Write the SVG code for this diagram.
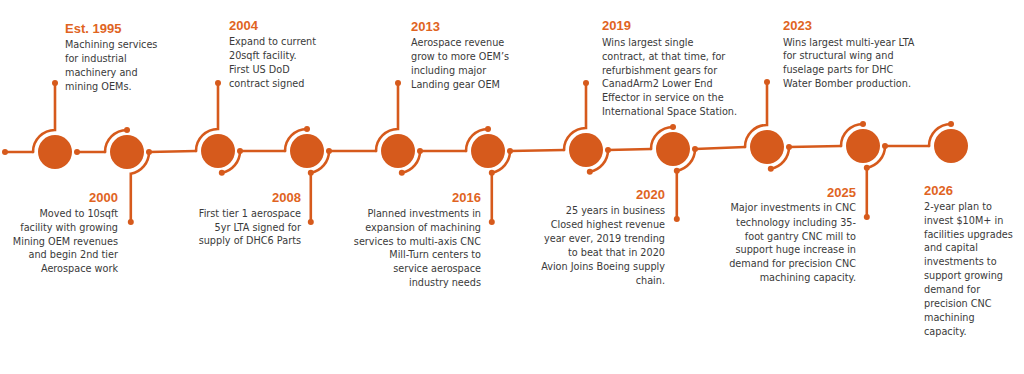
<svg xmlns="http://www.w3.org/2000/svg" width="1024" height="374" viewBox="0 0 1024 374">
<style>
.ln{fill:none;stroke:#D65A1C;stroke-width:2.6;stroke-linecap:round}
.dot{fill:#D65A1C}
.node{fill:#D65A1C}
.yr{font-family:"Liberation Sans",Arial,sans-serif;font-weight:bold;font-size:13px;fill:#E0641F}
.tx{font-family:"DejaVu Sans",Verdana,sans-serif;font-size:9.7px;fill:#3A3A3A}
.r{text-anchor:end}
</style>
<rect width="1024" height="374" fill="#FFFFFF"/>
<g id="connectors">
<path class="ln" d="M5,152 H33"/>
<path class="ln" d="M33,152 A22 22 0 0 1 55,130 V83"/>
<path class="ln" d="M77,152 H105"/>
<path class="ln" d="M105,152 A22 22 0 0 1 127,130"/>
<path class="ln" d="M149,152 A22 22 0 0 1 130.8,173.7 V222"/>
<path class="ln" d="M149,152 L196,151"/>
<path class="ln" d="M196,151 A22 22 0 0 1 218,129 V83"/>
<path class="ln" d="M240,151 A22 22 0 0 1 221.8,172.7"/>
<path class="ln" d="M240,151 L285,151"/>
<path class="ln" d="M285,151 A22 22 0 0 1 307,129"/>
<path class="ln" d="M329,151 A22 22 0 0 1 310.8,172.7 V222"/>
<path class="ln" d="M329,151 L376,151"/>
<path class="ln" d="M376,151 A22 22 0 0 1 398,129 V83"/>
<path class="ln" d="M420,151 A22 22 0 0 1 401.8,172.7"/>
<path class="ln" d="M420,151 L466,151"/>
<path class="ln" d="M466,151 A22 22 0 0 1 488,129"/>
<path class="ln" d="M510,151 A22 22 0 0 1 491.8,172.7 V222"/>
<path class="ln" d="M510,151 L564,150"/>
<path class="ln" d="M564,150 A22 22 0 0 1 586,128 V83"/>
<path class="ln" d="M608,150 A22 22 0 0 1 589.8,171.7"/>
<path class="ln" d="M608,150 L651,149"/>
<path class="ln" d="M651,149 A22 22 0 0 1 673,127"/>
<path class="ln" d="M695,149 A22 22 0 0 1 676.8,170.7 V219"/>
<path class="ln" d="M695,149 L745,147"/>
<path class="ln" d="M745,147 A22 22 0 0 1 767,125 V82"/>
<path class="ln" d="M789,147 A22 22 0 0 1 770.8,168.7"/>
<path class="ln" d="M789,147 L841,146"/>
<path class="ln" d="M841,146 A22 22 0 0 1 863,124"/>
<path class="ln" d="M885,146 A22 22 0 0 1 866.8,167.7 V217"/>
<path class="ln" d="M885,146 L929,146"/>
<path class="ln" d="M929,146 A22 22 0 0 1 951,124"/>
<g class="dot">
<circle cx="5" cy="152" r="3"/>
<circle cx="55" cy="83" r="3"/>
<circle cx="77" cy="152" r="3"/>
<circle cx="127" cy="130" r="3"/>
<circle cx="149" cy="152" r="3"/>
<circle cx="130.8" cy="222" r="3"/>
<circle cx="218" cy="83" r="3"/>
<circle cx="240" cy="151" r="3"/>
<circle cx="221.8" cy="172.7" r="3"/>
<circle cx="307" cy="129" r="3"/>
<circle cx="329" cy="151" r="3"/>
<circle cx="310.8" cy="172.7" r="3"/>
<circle cx="310.8" cy="222" r="3"/>
<circle cx="398" cy="83" r="3"/>
<circle cx="420" cy="151" r="3"/>
<circle cx="401.8" cy="172.7" r="3"/>
<circle cx="488" cy="129" r="3"/>
<circle cx="510" cy="151" r="3"/>
<circle cx="491.8" cy="172.7" r="3"/>
<circle cx="491.8" cy="222" r="3"/>
<circle cx="586" cy="83" r="3"/>
<circle cx="608" cy="150" r="3"/>
<circle cx="589.8" cy="171.7" r="3"/>
<circle cx="673" cy="127" r="3"/>
<circle cx="695" cy="149" r="3"/>
<circle cx="676.8" cy="170.7" r="3"/>
<circle cx="676.8" cy="219" r="3"/>
<circle cx="767" cy="82" r="3"/>
<circle cx="789" cy="147" r="3"/>
<circle cx="770.8" cy="168.7" r="3"/>
<circle cx="863" cy="124" r="3"/>
<circle cx="885" cy="146" r="3"/>
<circle cx="866.8" cy="167.7" r="3"/>
<circle cx="866.8" cy="217" r="3"/>
<circle cx="951" cy="124" r="3"/>
</g>
</g>
<g id="n1995">
<circle class="node" cx="55" cy="152" r="17"/>
<text class="yr" x="65" y="33">Est. 1995</text>
<text class="tx" x="65" y="48">Machining services</text>
<text class="tx" x="65" y="62">for industrial</text>
<text class="tx" x="65" y="76">machinery and</text>
<text class="tx" x="65" y="90">mining OEMs.</text>
</g>
<g id="n2000">
<circle class="node" cx="127" cy="152" r="17"/>
<text class="yr r" x="118" y="202">2000</text>
<text class="tx r" x="118" y="217">Moved to 10sqft</text>
<text class="tx r" x="118" y="231">facility with growing</text>
<text class="tx r" x="118" y="245">Mining OEM revenues</text>
<text class="tx r" x="118" y="258">and begin 2nd tier</text>
<text class="tx r" x="118" y="272">Aerospace work</text>
</g>
<g id="n2004">
<circle class="node" cx="218" cy="151" r="17"/>
<text class="yr" x="229" y="30">2004</text>
<text class="tx" x="229" y="45">Expand to current</text>
<text class="tx" x="229" y="59">20sqft facility.</text>
<text class="tx" x="229" y="73">First US DoD</text>
<text class="tx" x="229" y="87">contract signed</text>
</g>
<g id="n2008">
<circle class="node" cx="307" cy="151" r="17"/>
<text class="yr r" x="301" y="202">2008</text>
<text class="tx r" x="301" y="217">First tier 1 aerospace</text>
<text class="tx r" x="301" y="231">5yr LTA signed for</text>
<text class="tx r" x="301" y="244">supply of DHC6 Parts</text>
</g>
<g id="n2013">
<circle class="node" cx="398" cy="151" r="17"/>
<text class="yr" x="411" y="31">2013</text>
<text class="tx" x="411" y="46">Aerospace revenue</text>
<text class="tx" x="411" y="60">grow to more OEM’s</text>
<text class="tx" x="411" y="74">including major</text>
<text class="tx" x="411" y="88">Landing gear OEM</text>
</g>
<g id="n2016">
<circle class="node" cx="488" cy="151" r="17"/>
<text class="yr r" x="481" y="202">2016</text>
<text class="tx r" x="481" y="217">Planned investments in</text>
<text class="tx r" x="481" y="231">expansion of machining</text>
<text class="tx r" x="481" y="245">services to multi-axis CNC</text>
<text class="tx r" x="481" y="258">Mill-Turn centers to</text>
<text class="tx r" x="481" y="272">service aerospace</text>
<text class="tx r" x="481" y="286">industry needs</text>
</g>
<g id="n2019">
<circle class="node" cx="586" cy="150" r="17"/>
<text class="yr" x="602" y="30">2019</text>
<text class="tx" x="602" y="46">Wins largest single</text>
<text class="tx" x="602" y="60">contract, at that time, for</text>
<text class="tx" x="602" y="74">refurbishment gears for</text>
<text class="tx" x="602" y="87">CanadArm2 Lower End</text>
<text class="tx" x="602" y="101">Effector in service on the</text>
<text class="tx" x="602" y="115">International Space Station.</text>
</g>
<g id="n2020">
<circle class="node" cx="673" cy="149" r="17"/>
<text class="yr r" x="665" y="199">2020</text>
<text class="tx r" x="665" y="214">25 years in business</text>
<text class="tx r" x="665" y="228">Closed highest revenue</text>
<text class="tx r" x="665" y="242">year ever, 2019 trending</text>
<text class="tx r" x="665" y="256">to beat that in 2020</text>
<text class="tx r" x="665" y="270">Avion Joins Boeing supply</text>
<text class="tx r" x="665" y="284">chain.</text>
</g>
<g id="n2023">
<circle class="node" cx="767" cy="147" r="17"/>
<text class="yr" x="783" y="30">2023</text>
<text class="tx" x="783" y="46">Wins largest multi-year LTA</text>
<text class="tx" x="783" y="59">for structural wing and</text>
<text class="tx" x="783" y="73">fuselage parts for DHC</text>
<text class="tx" x="783" y="87">Water Bomber production.</text>
</g>
<g id="n2025">
<circle class="node" cx="863" cy="146" r="17"/>
<text class="yr r" x="856" y="197">2025</text>
<text class="tx r" x="856" y="211">Major investments in CNC</text>
<text class="tx r" x="856" y="226">technology including 35-</text>
<text class="tx r" x="856" y="240">foot gantry CNC mill to</text>
<text class="tx r" x="856" y="253">support huge increase in</text>
<text class="tx r" x="856" y="267">demand for precision CNC</text>
<text class="tx r" x="856" y="281">machining capacity.</text>
</g>
<g id="n2026">
<circle class="node" cx="951" cy="146" r="17"/>
<text class="yr" x="924" y="195">2026</text>
<text class="tx" x="924" y="210">2-year plan to</text>
<text class="tx" x="924" y="224">invest $10M+ in</text>
<text class="tx" x="924" y="238">facilities upgrades</text>
<text class="tx" x="924" y="251">and capital</text>
<text class="tx" x="924" y="265">investments to</text>
<text class="tx" x="924" y="279">support growing</text>
<text class="tx" x="924" y="293">demand for</text>
<text class="tx" x="924" y="307">precision CNC</text>
<text class="tx" x="924" y="321">machining</text>
<text class="tx" x="924" y="335">capacity.</text>
</g>
</svg>
